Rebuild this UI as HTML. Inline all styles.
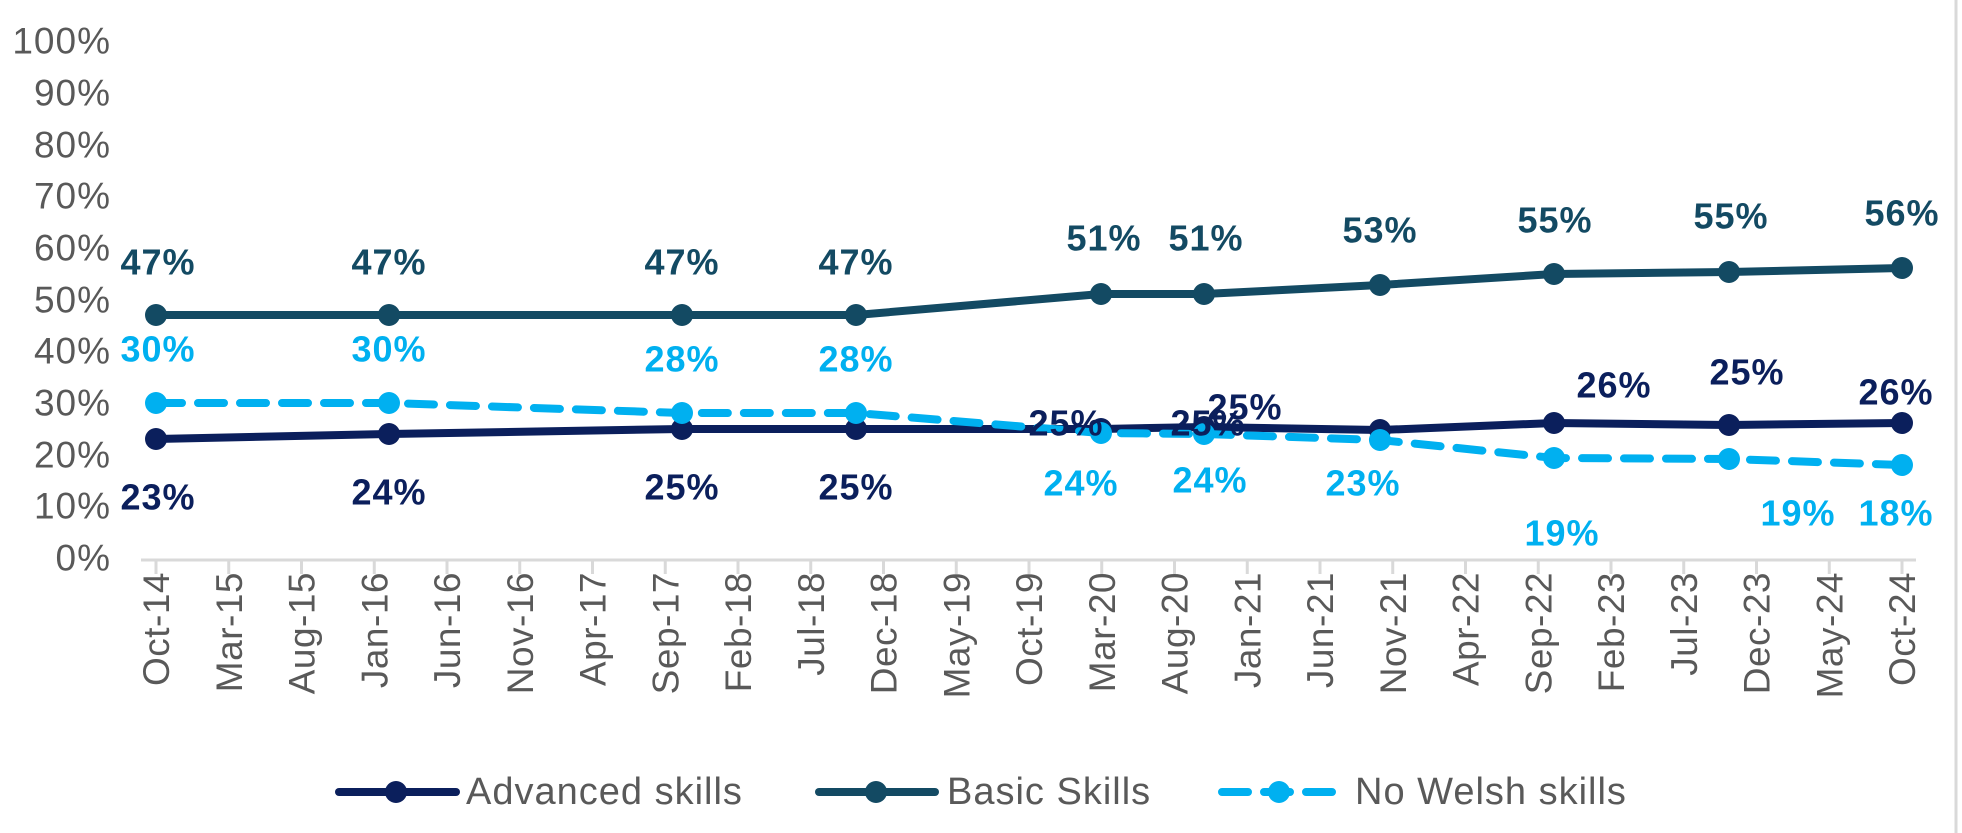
<!DOCTYPE html>
<html><head><meta charset="utf-8"><style>
html,body{margin:0;padding:0;background:#fff;}
svg{display:block;font-family:"Liberation Sans",sans-serif;}
</style></head><body>
<svg width="1962" height="833" viewBox="0 0 1962 833" xmlns="http://www.w3.org/2000/svg">
<rect width="1962" height="833" fill="#fff"/>
<line x1="1956" y1="0" x2="1956" y2="833" stroke="#d9d9d9" stroke-width="3"/>
<g fill="#595959" font-size="37" letter-spacing="1" text-anchor="end" dominant-baseline="central">
<text x="111" y="41">100%</text><text x="111" y="93">90%</text><text x="111" y="145">80%</text><text x="111" y="196">70%</text><text x="111" y="248">60%</text><text x="111" y="300">50%</text><text x="111" y="351">40%</text><text x="111" y="403">30%</text><text x="111" y="455">20%</text><text x="111" y="506">10%</text><text x="111" y="558">0%</text>
</g>
<line x1="141" y1="560" x2="1916" y2="560" stroke="#d9d9d9" stroke-width="3"/>
<g stroke="#d9d9d9" stroke-width="3" id="ticks"></g>
<g id="xl" fill="#595959" font-size="37" letter-spacing="0.5" text-anchor="end"></g>
<polyline fill="none" stroke="#134a63" stroke-width="8" stroke-linejoin="round" points="156,315 389,315 682,315 856,315 1101,294 1204,294 1380,285 1554,274 1729,272 1902,268"/>
<g fill="#134a63"><circle cx="156" cy="315" r="11"/><circle cx="389" cy="315" r="11"/><circle cx="682" cy="315" r="11"/><circle cx="856" cy="315" r="11"/><circle cx="1101" cy="294" r="11"/><circle cx="1204" cy="294" r="11"/><circle cx="1380" cy="285" r="11"/><circle cx="1554" cy="274" r="11"/><circle cx="1729" cy="272" r="11"/><circle cx="1902" cy="268" r="11"/></g>
<polyline fill="none" stroke="#0b1f5c" stroke-width="8" stroke-linejoin="round" points="156,439 389,434 682,429 856,429 1101,429 1204,427 1380,430 1554,423 1729,425 1902,423"/>
<g fill="#0b1f5c"><circle cx="156" cy="439" r="11"/><circle cx="389" cy="434" r="11"/><circle cx="682" cy="429" r="11"/><circle cx="856" cy="429" r="11"/><circle cx="1101" cy="429" r="11"/><circle cx="1204" cy="427" r="11"/><circle cx="1380" cy="430" r="11"/><circle cx="1554" cy="423" r="11"/><circle cx="1729" cy="425" r="11"/><circle cx="1902" cy="423" r="11"/></g>
<polyline fill="none" stroke="#00b0f0" stroke-width="8" stroke-dasharray="26 16" stroke-linecap="round" points="156,403 389,403 682,413 856,413 1101,433 1204,434 1380,440 1554,458 1729,459 1902,465"/>
<g fill="#00b0f0"><circle cx="156" cy="403" r="11"/><circle cx="389" cy="403" r="11"/><circle cx="682" cy="413" r="11"/><circle cx="856" cy="413" r="11"/><circle cx="1101" cy="433" r="11"/><circle cx="1204" cy="434" r="11"/><circle cx="1380" cy="440" r="11"/><circle cx="1554" cy="458" r="11"/><circle cx="1729" cy="459" r="11"/><circle cx="1902" cy="465" r="11"/></g>
<g font-size="36" font-weight="bold" letter-spacing="1" text-anchor="middle" dominant-baseline="central">
<g fill="#134a63"><text x="158" y="262">47%</text><text x="389" y="262">47%</text><text x="682" y="262">47%</text><text x="856" y="262">47%</text><text x="1104" y="238">51%</text><text x="1206" y="238">51%</text><text x="1380" y="230">53%</text><text x="1555" y="220">55%</text><text x="1731" y="216">55%</text><text x="1902" y="213">56%</text></g>
<g fill="#0b1f5c"><text x="158" y="497">23%</text><text x="389" y="492">24%</text><text x="682" y="487">25%</text><text x="856" y="487">25%</text><text x="1066" y="423">25%</text><text x="1208" y="423">25%</text><text x="1245" y="407">25%</text><text x="1614" y="385">26%</text><text x="1747" y="372">25%</text><text x="1896" y="392">26%</text></g>
<g fill="#00b0f0"><text x="158" y="349">30%</text><text x="389" y="349">30%</text><text x="682" y="359">28%</text><text x="856" y="359">28%</text><text x="1081" y="483">24%</text><text x="1210" y="480">24%</text><text x="1363" y="483">23%</text><text x="1562" y="533">19%</text><text x="1798" y="513">19%</text><text x="1896" y="513">18%</text></g>
</g>
<g font-size="38" letter-spacing="1" fill="#595959" dominant-baseline="central">
<line x1="339" y1="792" x2="456" y2="792" stroke="#0b1f5c" stroke-width="8" stroke-linecap="round"/><circle cx="396" cy="792" r="11" fill="#0b1f5c"/><text x="466" y="792">Advanced skills</text>
<line x1="819" y1="792" x2="935" y2="792" stroke="#134a63" stroke-width="8" stroke-linecap="round"/><circle cx="876" cy="792" r="11" fill="#134a63"/><text x="947" y="792">Basic Skills</text>
<line x1="1222" y1="792" x2="1340" y2="792" stroke="#00b0f0" stroke-width="8" stroke-dasharray="26 16" stroke-linecap="round"/><circle cx="1279" cy="792" r="11" fill="#00b0f0"/><text x="1355" y="792">No Welsh skills</text>
</g>
<script>
var L=["Oct-14","Mar-15","Aug-15","Jan-16","Jun-16","Nov-16","Apr-17","Sep-17","Feb-18","Jul-18","Dec-18","May-19","Oct-19","Mar-20","Aug-20","Jan-21","Jun-21","Nov-21","Apr-22","Sep-22","Feb-23","Jul-23","Dec-23","May-24","Oct-24"];
var ns="http://www.w3.org/2000/svg",t=document.getElementById("ticks"),xl=document.getElementById("xl");
for(var i=0;i<25;i++){var x=156+i*72.75;
var l=document.createElementNS(ns,"line");l.setAttribute("x1",x);l.setAttribute("x2",x);l.setAttribute("y1",560);l.setAttribute("y2",574);t.appendChild(l);
var tx=document.createElementNS(ns,"text");tx.setAttribute("transform","translate("+(x+13)+",572) rotate(-90)");tx.textContent=L[i];xl.appendChild(tx);}
</script>
</svg>
</body></html>
